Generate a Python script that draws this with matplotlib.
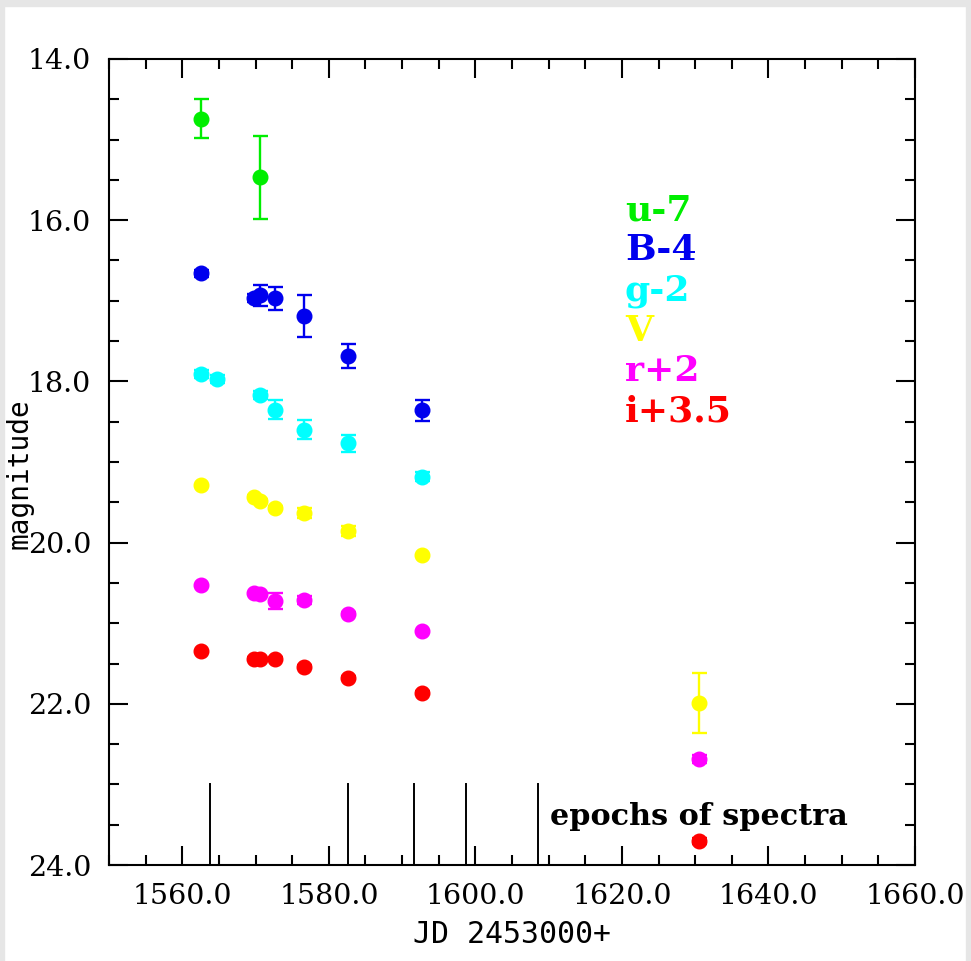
import matplotlib
matplotlib.use("Agg")
import matplotlib.pyplot as plt
from matplotlib.patches import Rectangle
from matplotlib.ticker import MultipleLocator, FormatStrFormatter

# light curves (JD - 2453000, magnitude, error), bands already offset
u_x = [1562.6, 1570.6]
u_y = [14.74, 15.47]
u_e = [0.24, 0.52]

B_x = [1562.6, 1569.75, 1570.6, 1572.7, 1576.6, 1582.6, 1592.65]
B_y = [16.66, 16.97, 16.93, 16.97, 17.19, 17.68, 18.36]
B_e = [0.04, 0.05, 0.13, 0.14, 0.26, 0.15, 0.135]

g_x = [1562.6, 1564.7, 1570.6, 1572.7, 1576.6, 1582.6, 1592.65]
g_y = [17.91, 17.97, 18.17, 18.35, 18.60, 18.77, 19.18]
g_e = [0.05, 0.05, 0.05, 0.12, 0.12, 0.11, 0.06]

V_x = [1562.6, 1569.75, 1570.6, 1572.7, 1576.6, 1582.6, 1592.65, 1630.5]
V_y = [19.29, 19.43, 19.48, 19.57, 19.63, 19.86, 20.16, 21.99]
V_e = [0.02, 0.02, 0.02, 0.02, 0.06, 0.06, 0.02, 0.37]

r_x = [1562.6, 1569.75, 1570.6, 1572.7, 1576.6, 1582.6, 1592.65, 1630.5]
r_y = [20.53, 20.63, 20.64, 20.72, 20.71, 20.88, 21.10, 22.68]
r_e = [0.02, 0.02, 0.02, 0.10, 0.05, 0.02, 0.02, 0.05]

i_x = [1562.6, 1569.75, 1570.6, 1572.7, 1576.6, 1582.6, 1592.65, 1630.5]
i_y = [21.35, 21.44, 21.45, 21.44, 21.54, 21.68, 21.86, 23.70]
i_e = [0.02, 0.02, 0.02, 0.02, 0.02, 0.02, 0.02, 0.04]

spectra_epochs = [1563.75, 1582.6, 1591.6, 1598.7, 1608.6]

labels = ["u-7", "B-4", "g-2", "V", "r+2", "i+3.5"]
label_y = [16.0, 16.5, 17.0, 17.5, 18.0, 18.5]
colors = ["#00ee00", "#0000ee", "#00ffff", "#ffff00", "#ff00ff", "#ff0000"]

bands = [(u_x, u_y, u_e), (B_x, B_y, B_e), (g_x, g_y, g_e),
         (V_x, V_y, V_e), (r_x, r_y, r_e), (i_x, i_y, i_e)]

fig = plt.figure(figsize=(9.71, 9.61), dpi=100)
W, H = 971, 961
# grey frame on top / left / right
for (x0, y0, w, h) in [(0, 955, 971, 6), (0, 0, 4, 961), (966, 0, 5, 961)]:
    fig.patches.append(Rectangle((x0 / W, y0 / H), w / W, h / H,
                                 transform=fig.transFigure, color="#e6e6e6", zorder=0))

ax = fig.add_axes([109 / W, (H - 865) / H, 806 / W, 806 / H])

for (x, y, e), c in zip(bands, colors):
    ax.errorbar(x, y, yerr=e, fmt="o", color=c, mec=c, ms=10.5,
                elinewidth=1.7, capsize=5.4, capthick=1.7)

for t in spectra_epochs:
    ax.plot([t, t], [23.0, 24.0], color="black", lw=1.4)

for lab, yy, c in zip(labels, label_y, colors):
    ax.text(1620.4, yy, lab, color=c, fontsize=26, family="DejaVu Serif",
            fontweight="bold", ha="left", va="baseline")

ax.text(1610.2, 23.5, "epochs of spectra", color="black", fontsize=21.8,
        family="DejaVu Serif", fontweight="bold", ha="left", va="baseline")

ax.set_xlim(1550, 1660)
ax.set_ylim(24, 14)
ax.xaxis.set_major_locator(MultipleLocator(20))
ax.xaxis.set_minor_locator(MultipleLocator(5))
ax.yaxis.set_major_locator(MultipleLocator(2))
ax.yaxis.set_minor_locator(MultipleLocator(0.5))
ax.xaxis.set_major_formatter(FormatStrFormatter("%.1f"))
ax.yaxis.set_major_formatter(FormatStrFormatter("%.1f"))

ax.tick_params(which="both", direction="in", top=True, right=True, width=1.5)
ax.tick_params(which="major", length=13.7, pad=13, labelsize=20.5)
ax.tick_params(which="minor", length=7)
for lab in ax.get_xticklabels() + ax.get_yticklabels():
    lab.set_family("DejaVu Serif")
for s in ax.spines.values():
    s.set_linewidth(1.5)

ax.set_xlabel("JD 2453000+", fontsize=21.5, family="DejaVu Sans Mono")
ax.set_ylabel("magnitude", fontsize=20, family="DejaVu Sans Mono")
ax.xaxis.set_label_coords(0.5, -0.068)
ax.yaxis.set_label_coords(-0.094, 0.486)

fig.savefig("out.png", dpi=100)
